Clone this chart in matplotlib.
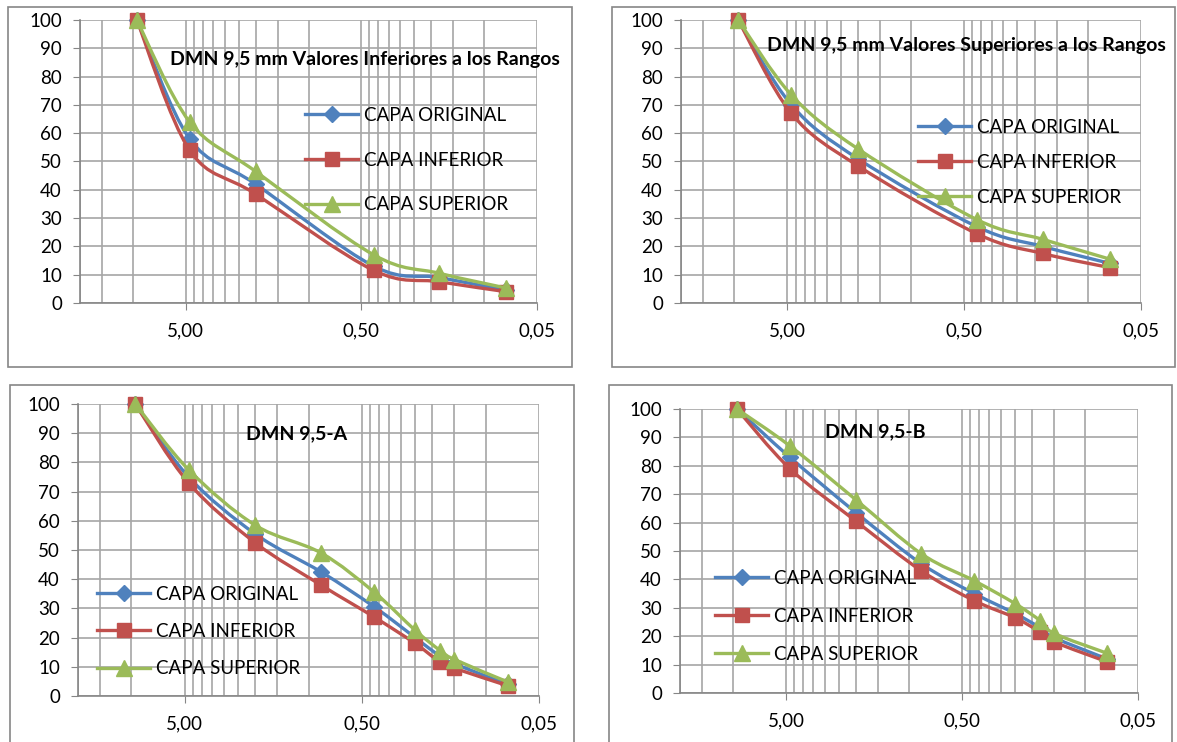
import numpy as np
import matplotlib
matplotlib.use('Agg')
import matplotlib.pyplot as plt
from matplotlib.path import Path
from matplotlib.patches import PathPatch, Rectangle
from matplotlib.lines import Line2D
from matplotlib.ticker import FixedLocator, FuncFormatter

plt.rcParams['font.family'] = ['Lato', 'DejaVu Sans']

W, H = 1177, 742

# sieve openings (mm)
sieves_a = [9.5, 4.75, 2.0, 0.425, 0.18, 0.075]
sieves_b = [9.5, 4.75, 2.0, 0.85, 0.425, 0.25, 0.18, 0.15, 0.075]

# DMN 9,5 mm valores inferiores
inf_original = [100, 58, 42, 13, 9, 4.5]
inf_inferior = [100, 54, 38.5, 11.5, 7.5, 4]
inf_superior = [100, 64, 46.5, 17, 10.5, 5.3]

# DMN 9,5 mm valores superiores
sup_original = [100, 70, 51, 27, 20, 14]
sup_inferior = [100, 67, 48.5, 24.5, 17.5, 12.5]
sup_superior = [100, 73.5, 54.5, 29.5, 22.5, 15.5]

# DMN 9,5-A
a_original = [100, 75, 55.5, 42.5, 30.5, 20, 13.5, 11, 4]
a_inferior = [100, 73, 52.5, 38, 27, 18, 11.5, 9.5, 3.5]
a_superior = [100, 77.5, 58.5, 49, 35.5, 22.5, 15.5, 12.5, 4.8]

# DMN 9,5-B
b_original = [100, 83, 63.5, 45.5, 35, 28, 23, 19.5, 12]
b_inferior = [100, 79, 60.5, 43, 32.5, 26.5, 21.5, 18, 11]
b_superior = [100, 87, 68, 49, 39.5, 31.5, 25.5, 21, 14]

labels = ['CAPA ORIGINAL', 'CAPA INFERIOR', 'CAPA SUPERIOR']
colors = ['#4F81BD', '#C0504D', '#9BBB59']
markers = ['D', 's', '^']
msizes = [8, 10.5, 11]

GRID = '#a6a6a6'
AXC = '#868686'
FS = 13.5


def px(x0, y0, x1, y1):
    return [x0 / W, 1 - y1 / H, (x1 - x0) / W, (y1 - y0) / H]


def smooth_path(xs, ys):
    """Excel-like smoothed line as cubic bezier in (log x, y) space"""
    u = np.log10(xs)
    v = np.asarray(ys, dtype=float)
    n = len(u)
    verts = [(xs[0], v[0])]
    codes = [Path.MOVETO]
    for i in range(n - 1):
        i0 = max(i - 1, 0)
        i3 = min(i + 2, n - 1)
        c1u = u[i] + (u[i + 1] - u[i0]) / 6
        c1v = v[i] + (v[i + 1] - v[i0]) / 6
        c2u = u[i + 1] - (u[i3] - u[i]) / 6
        c2v = v[i + 1] - (v[i3] - v[i]) / 6
        verts += [(10 ** c1u, c1v), (10 ** c2u, c2v), (xs[i + 1], v[i + 1])]
        codes += [Path.CURVE4] * 3
    return Path(verts, codes)


def draw_chart(box, rect, sieves, series, title, title_pos, leg_pos, leg_spacing):
    fig.add_artist(Rectangle((box[0] / W, 1 - box[3] / H),
                             (box[2] - box[0]) / W, (box[3] - box[1]) / H,
                             transform=fig.transFigure, fill=False,
                             edgecolor=AXC, lw=1.2))
    ax = fig.add_axes(px(*rect))
    ax.set_xscale('log')
    ax.set_xlim(20, 0.05)
    ax.set_ylim(0, 100)

    minor = [m * d for d in (0.05, 0.5, 5) for m in range(2, 10) if m * d <= 20]
    ax.xaxis.set_major_locator(FixedLocator([5, 0.5, 0.05]))
    ax.xaxis.set_minor_locator(FixedLocator(minor))
    ax.xaxis.set_major_formatter(FuncFormatter(lambda v, p: f'{v:.2f}'.replace('.', ',')))
    ax.xaxis.set_minor_formatter(FuncFormatter(lambda v, p: ''))
    ax.set_yticks(np.arange(0, 101, 10))

    ax.grid(which='both', axis='x', color=GRID, lw=1.2)
    ax.grid(which='major', axis='y', color=GRID, lw=1.2)
    ax.set_axisbelow(True)
    for s in ['top', 'right']:
        ax.spines[s].set_visible(False)
    for s in ['left', 'bottom']:
        ax.spines[s].set_color(AXC)
        ax.spines[s].set_linewidth(1.2)
    ax.tick_params(axis='x', which='major', length=5, color=AXC, pad=9, labelsize=FS)
    ax.tick_params(axis='x', which='minor', length=0)
    ax.tick_params(axis='y', length=5, color=AXC, pad=8, labelsize=FS)

    handles = []
    for k, ys in enumerate(series):
        ax.add_patch(PathPatch(smooth_path(sieves, ys), fill=False,
                               edgecolor=colors[k], lw=2.4, zorder=3 + k))
        ax.plot(sieves, ys, linestyle='none', marker=markers[k], ms=msizes[k],
                color=colors[k], zorder=3 + k, clip_on=False)
        handles.append(Line2D([], [], color=colors[k], lw=2.4,
                              marker=markers[k], ms=msizes[k]))

    fig.text(title_pos[0] / W, 1 - title_pos[1] / H, title, ha='center',
             va='center', fontsize=14, fontweight='bold')
    ax.legend(handles, labels, loc='upper left',
              bbox_to_anchor=(leg_pos[0] / W, 1 - leg_pos[1] / H),
              bbox_transform=fig.transFigure, frameon=False, fontsize=FS,
              handlelength=2.85, handletextpad=0.3, borderpad=0,
              borderaxespad=0, labelspacing=leg_spacing)
    return ax


fig = plt.figure(figsize=(W / 100, H / 100), dpi=100)

draw_chart((8, 7, 572, 367), (80, 20, 537, 303), sieves_a,
           [inf_original, inf_inferior, inf_superior],
           'DMN 9,5 mm Valores Inferiores a los Rangos', (365, 60),
           (305, 107), 1.47)
draw_chart((612, 7, 1175, 367), (681, 20, 1141, 303), sieves_a,
           [sup_original, sup_inferior, sup_superior],
           'DMN 9,5 mm Valores Superiores a los Rangos', (966, 46),
           (918, 119), 0.96)
draw_chart((10, 385, 574, 745), (78, 404, 539, 696), sieves_b,
           [a_original, a_inferior, a_superior],
           'DMN 9,5-A', (297, 434), (97, 585.5), 1.09)
draw_chart((609, 385, 1172, 745), (680, 409, 1138, 693), sieves_b,
           [b_original, b_inferior, b_superior],
           'DMN 9,5-B', (875, 432), (715, 570), 1.12)

fig.savefig('out.png', dpi=100)
